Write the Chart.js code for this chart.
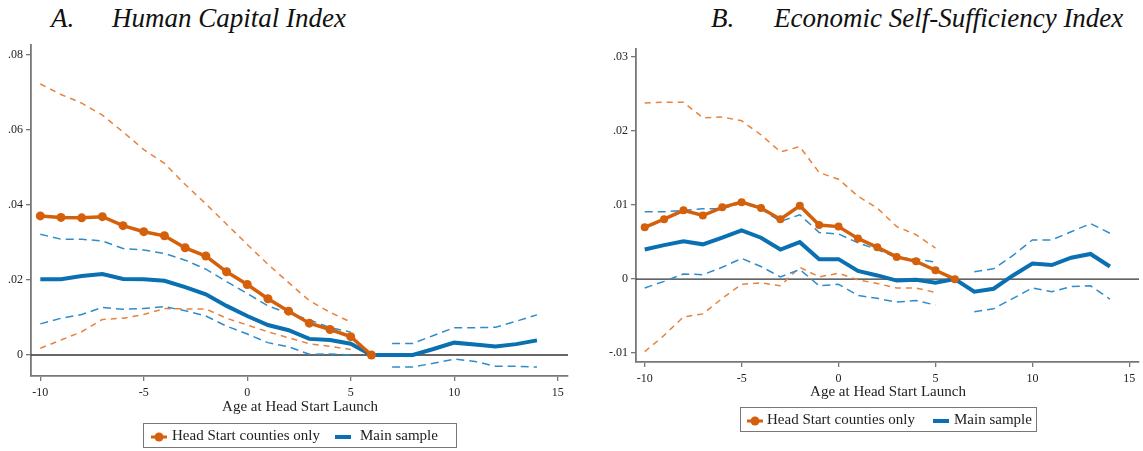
<!DOCTYPE html>
<html>
<head>
<meta charset="utf-8">
<script src="https://cdn.jsdelivr.net/npm/chart.js@4.4.1/dist/chart.umd.min.js"></script>
<style>
  body { margin: 0; background: #fff; font-family: "Liberation Serif", "DejaVu Serif", serif; }
  #wrap { position: relative; width: 1143px; height: 451px; overflow: hidden; }
  canvas { position: absolute; top: 0; }
  .title { position: absolute; top: 3px; font-size: 27px; font-style: italic; color: #111; white-space: nowrap; }
  .axtitle { position: absolute; font-size: 15px; color: #222; white-space: nowrap; transform: translateX(-50%); }
  .legend { position: absolute; border: 1px solid #777; height: 25px; font-size: 15px; color: #222; box-sizing: border-box; }
  .legend span { position: absolute; top: 3px; white-space: nowrap; }
  .legend svg { position: absolute; top: 7px; }
</style>
</head>
<body>
<div id="wrap">
  <div class="title" style="left:51px">A.</div>
  <div class="title" style="left:112px">Human Capital Index</div>
  <div class="title" style="left:711px">B.</div>
  <div class="title" style="left:774px">Economic Self-Sufficiency Index</div>
  <canvas id="chartA" width="580" height="451" style="left:0;width:580px;height:451px"></canvas>
  <canvas id="chartB" width="553" height="451" style="left:590px;width:553px;height:451px"></canvas>
  <div class="axtitle" style="left:300px;top:398px">Age at Head Start Launch</div>
  <div class="axtitle" style="left:888px;top:383px">Age at Head Start Launch</div>
  <div class="legend" style="left:143px;top:423px;width:314px">
    <svg width="18" height="12" style="left:6px"><line x1="1" y1="6" x2="17" y2="6" stroke="#d5600b" stroke-width="3"/><circle cx="9" cy="6" r="4.5" fill="#d5600b"/></svg>
    <span style="left:28px">Head Start counties only</span>
    <svg width="18" height="12" style="left:190px"><line x1="1" y1="6" x2="17" y2="6" stroke="#0a70b2" stroke-width="4"/></svg>
    <span style="left:216px">Main sample</span>
  </div>
  <div class="legend" style="left:740px;top:407px;width:297px">
    <svg width="18" height="12" style="left:5px"><line x1="1" y1="6" x2="17" y2="6" stroke="#d5600b" stroke-width="3"/><circle cx="9" cy="6" r="4.5" fill="#d5600b"/></svg>
    <span style="left:26px">Head Start counties only</span>
    <svg width="18" height="12" style="left:191px"><line x1="1" y1="6" x2="17" y2="6" stroke="#0a70b2" stroke-width="4"/></svg>
    <span style="left:213px">Main sample</span>
  </div>
</div>
<script>
// 横轴：Head Start 启动时的年龄
const ages = [-10, -9, -8, -7, -6, -5, -4, -3, -2, -1, 0, 1, 2, 3, 4, 5, 6, 7, 8, 9, 10, 11, 12, 13, 14];
const xTicks = [-10, -5, 0, 5, 10, 15];

// A. Human Capital Index
const hsA      = [0.0371, 0.0367, 0.0366, 0.0369, 0.0345, 0.0329, 0.0318, 0.0286, 0.0264, 0.0222, 0.0188, 0.0150, 0.0117, 0.0085, 0.0068, 0.0049, 0, null, null, null, null, null, null, null, null];
const hsUpperA = [0.0723, 0.0695, 0.0672, 0.0640, 0.0595, 0.0548, 0.0511, 0.0455, 0.0403, 0.0349, 0.0295, 0.0242, 0.0193, 0.0145, 0.0114, 0.0088, null, null, null, null, null, null, null, null, null];
const hsLowerA = [0.0018, 0.0040, 0.0062, 0.0095, 0.0098, 0.0108, 0.0124, 0.0123, 0.0123, 0.0098, 0.0080, 0.0062, 0.0046, 0.0030, 0.0023, 0.0015, null, null, null, null, null, null, null, null, null];
const mainA      = [0.0202, 0.0202, 0.0211, 0.0216, 0.0203, 0.0202, 0.0198, 0.0181, 0.0162, 0.0131, 0.0104, 0.0080, 0.0066, 0.0043, 0.0040, 0.0030, 0, 0, 0, 0.0016, 0.0033, 0.0028, 0.0023, 0.0029, 0.0039];
const mainUpperA = [0.0322, 0.0309, 0.0309, 0.0304, 0.0284, 0.0280, 0.0271, 0.0253, 0.0229, 0.0196, 0.0164, 0.0131, 0.0111, 0.0094, 0.0073, 0.0061, null, 0.0031, 0.0031, 0.0052, 0.0073, 0.0073, 0.0074, 0.0090, 0.0107];
const mainLowerA = [0.0083, 0.0098, 0.0108, 0.0127, 0.0122, 0.0124, 0.0129, 0.0118, 0.0104, 0.0077, 0.0056, 0.0033, 0.0022, 0.0002, 0.0003, 0.0000, null, -0.0032, -0.0032, -0.0022, -0.0011, -0.0017, -0.0030, -0.0030, -0.0032];
const yTicksA = [0, 0.02, 0.04, 0.06, 0.08];

// B. Economic Self-Sufficiency Index
const hsB      = [0.0070, 0.0081, 0.0093, 0.0086, 0.0097, 0.0104, 0.0096, 0.0081, 0.0099, 0.0073, 0.0071, 0.0055, 0.0043, 0.0030, 0.0024, 0.0012, 0, null, null, null, null, null, null, null, null];
const hsUpperB = [0.0238, 0.0239, 0.0239, 0.0218, 0.0219, 0.0214, 0.0195, 0.0172, 0.0179, 0.0144, 0.0135, 0.0112, 0.0096, 0.0071, 0.0060, 0.0042, null, null, null, null, null, null, null, null, null];
const hsLowerB = [-0.0098, -0.0076, -0.0051, -0.0047, -0.0026, -0.0007, -0.0005, -0.0009, 0.0016, 0.0003, 0.0008, -0.0001, -0.0006, -0.0012, -0.0012, -0.0018, null, null, null, null, null, null, null, null, null];
const mainB      = [0.0040, 0.0046, 0.0051, 0.0047, 0.0056, 0.0066, 0.0056, 0.0040, 0.0050, 0.0027, 0.0027, 0.0011, 0.0005, -0.0002, -0.0001, -0.0005, 0, -0.0017, -0.0013, 0.0005, 0.0021, 0.0019, 0.0029, 0.0034, 0.0017];
const mainUpperB = [0.0091, 0.0091, 0.0093, 0.0095, 0.0095, 0.0103, 0.0095, 0.0078, 0.0087, 0.0063, 0.0061, 0.0049, 0.0040, 0.0029, 0.0027, 0.0023, null, 0.0010, 0.0014, 0.0032, 0.0053, 0.0053, 0.0064, 0.0075, 0.0062];
const mainLowerB = [-0.0012, -0.0003, 0.0007, 0.0006, 0.0016, 0.0028, 0.0017, 0.0003, 0.0013, -0.0009, -0.0007, -0.0022, -0.0026, -0.0031, -0.0029, -0.0035, null, -0.0044, -0.0040, -0.0026, -0.0012, -0.0017, -0.0010, -0.0009, -0.0027];
const yTicksB = [-0.01, 0, 0.01, 0.02, 0.03];

const ORANGE = '#d5600b';
const ORANGE_CI = '#e8823c';
const BLUE = '#0a70b2';
const BLUE_CI = '#2f8ccb';
const AXIS = '#777';
const FONT = { family: '"Liberation Serif", serif', size: 12 };

// 零参考线
const zeroLine = {
    id: 'zeroLine',
    beforeDatasetsDraw(chart) {
        const ctx = chart.ctx;
        const y = chart.scales.y.getPixelForValue(0);
        ctx.save();
        ctx.strokeStyle = '#333';
        ctx.lineWidth = 1.3;
        ctx.beginPath();
        ctx.moveTo(chart.chartArea.left, y);
        ctx.lineTo(chart.chartArea.right, y);
        ctx.stroke();
        ctx.restore();
    }
};

function toPoints(values) {
    return ages.map((a, i) => ({ x: a, y: values[i] }));
}

function fmtY(v) {
    if (Math.abs(v) < 1e-9) return '0';
    return v.toFixed(2).replace('0.', '.');
}

function makeChart(id, s, opt) {
    const ci = (vals, color, dash, order) => ({
        data: toPoints(vals), borderColor: color, borderWidth: 1.5, borderDash: dash,
        pointRadius: 0, spanGaps: false, fill: false, tension: 0, order: order
    });
    return new Chart(document.getElementById(id), {
        type: 'line',
        data: {
            datasets: [
                { data: toPoints(s.hs), borderColor: ORANGE, backgroundColor: ORANGE, borderWidth: 3.5,
                  pointRadius: opt.marker, pointBackgroundColor: ORANGE, pointBorderWidth: 0, order: 0, tension: 0 },
                { data: toPoints(s.main), borderColor: BLUE, borderWidth: 4, pointRadius: 0, order: 1, tension: 0 },
                ci(s.hsUp, ORANGE_CI, [6, 5], 3),
                ci(s.hsLo, ORANGE_CI, [6, 5], 3),
                ci(s.mUp, BLUE_CI, [8, 5], 2),
                ci(s.mLo, BLUE_CI, [8, 5], 2)
            ]
        },
        options: {
            responsive: false,
            animation: false,
            layout: { padding: opt.padding },
            plugins: { legend: { display: false }, tooltip: { enabled: false } },
            scales: {
                x: {
                    type: 'linear', min: -10.45, max: 15.5,
                    afterBuildTicks: (sc) => { sc.ticks = xTicks.map(v => ({ value: v })); },
                    afterFit: (sc) => { sc.height = 25; },
                    ticks: { font: FONT, color: '#222', padding: opt.xPad, maxRotation: 0,
                             callback: (v) => String(v) },
                    grid: { drawOnChartArea: false, drawTicks: true, tickLength: 5, tickColor: AXIS, lineWidth: 1.3 },
                    border: { display: true, color: AXIS, width: 1.8 }
                },
                y: {
                    min: opt.yMin, max: opt.yMax,
                    afterBuildTicks: (sc) => { sc.ticks = opt.yTicks.map(v => ({ value: v })); },
                    afterFit: (sc) => { sc.width = opt.yWidth; },
                    ticks: { font: FONT, color: '#222', padding: 3, callback: fmtY },
                    grid: { drawOnChartArea: false, drawTicks: true, tickLength: 5, tickColor: AXIS, lineWidth: 1.3 },
                    border: { display: true, color: AXIS, width: 1.8 }
                }
            }
        },
        plugins: [zeroLine]
    });
}

makeChart('chartA',
    { hs: hsA, hsUp: hsUpperA, hsLo: hsLowerA, main: mainA, mUp: mainUpperA, mLo: mainLowerA },
    { yMin: -0.0056, yMax: 0.0827, yTicks: yTicksA, yWidth: 31, marker: 4.5, xPad: 5,
      padding: { left: 0, top: 45, right: 12, bottom: 50 } });

makeChart('chartB',
    { hs: hsB, hsUp: hsUpperB, hsLo: hsLowerB, main: mainB, mUp: mainUpperB, mLo: mainLowerB },
    { yMin: -0.0112, yMax: 0.0311, yTicks: yTicksB, yWidth: 46, marker: 4, xPad: 5,
      padding: { left: 0, top: 49, right: 1, bottom: 64 } });
</script>
</body>
</html>
